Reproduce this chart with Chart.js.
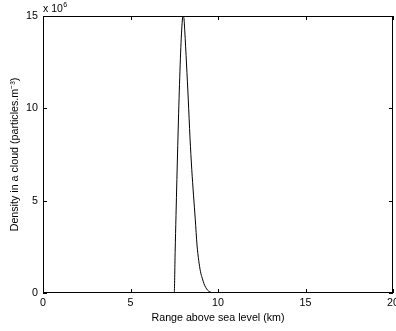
<!DOCTYPE html>
<html>
<head>
<meta charset="utf-8">
<script src="https://cdn.jsdelivr.net/npm/chart.js@4"></script>
<style>
body{margin:0;background:#fff}
#box{width:396px;height:331px}
</style>
</head>
<body>
<div id="box"><canvas id="chart" width="396" height="331"></canvas></div>
<script>
// range (km) and density (x 10^6 particles per m^3)
const rangeKm=[0,7.5,7.55,7.6,7.7,7.8,7.9,8.0,8.05,8.1,8.2,8.3,8.4,8.5,8.6,8.7,8.8,8.9,9.0,9.1,9.2,9.3,9.4,9.5,9.6,9.7,9.85,10,20];
const densityE6=[0,0,2.2,4.2,8.0,11.3,13.8,15.0,14.9,14.2,12.4,10.5,8.4,6.7,5.3,4.0,2.6,1.75,1.15,0.8,0.5,0.3,0.16,0.08,0.035,0.012,0,0,0];
const xTicks=[0,5,10,15,20];
const yTicks=[0,5,10,15];

const font={family:'"Liberation Sans", Arial, sans-serif',size:10.7};

// matlab style box with inward ticks
const boxPlugin={
  id:'box',
  afterDraw(chart){
    const c=chart.ctx, a=chart.chartArea;
    const xs=chart.scales.x, ys=chart.scales.y;
    c.save();
    c.strokeStyle='#000';
    c.lineWidth=1;
    c.strokeRect(a.left+0.5,a.top+0.5,a.right-a.left-1,a.bottom-a.top-1);
    c.beginPath();
    xTicks.forEach(v=>{
      const px=Math.round(xs.getPixelForValue(v))+0.5;
      c.moveTo(px,a.bottom);c.lineTo(px,a.bottom-4);
      c.moveTo(px,a.top);c.lineTo(px,a.top+4);
    });
    yTicks.forEach(v=>{
      const py=Math.round(ys.getPixelForValue(v))+0.5;
      c.moveTo(a.left,py);c.lineTo(a.left+4,py);
      c.moveTo(a.right,py);c.lineTo(a.right-4,py);
    });
    c.stroke();
    c.fillStyle='#000';
    c.textBaseline='alphabetic';
    c.font='10.5px "Liberation Sans", Arial, sans-serif';
    c.fillText('x 10',a.left,12);
    const w=c.measureText('x 10').width;
    c.font='7px "Liberation Sans", Arial, sans-serif';
    c.fillText('6',a.left+w+0.5,7);
    c.restore();
  }
};

new Chart('chart',{
  type:'line',
  data:{
    datasets:[{
      data:rangeKm.map((x,i)=>({x:x,y:densityE6[i]})),
      borderColor:'#000',
      borderWidth:1,
      pointRadius:0,
      cubicInterpolationMode:'monotone',
      fill:false
    }]
  },
  options:{
    responsive:false,
    animation:false,
    layout:{padding:{top:16,right:3,left:0,bottom:0}},
    plugins:{legend:{display:false},tooltip:{enabled:false}},
    scales:{
      x:{
        type:'linear',min:0,max:20,
        afterBuildTicks(s){s.ticks=xTicks.map(v=>({value:v}));},
        afterFit(s){s.height=38;s.paddingLeft=0;s.paddingRight=0;},
        grid:{display:false,drawTicks:false},
        border:{display:false},
        ticks:{color:'#000',font:font,padding:4,maxRotation:0,autoSkip:false},
        title:{display:true,text:'Range above sea level (km)',color:'#000',font:font,padding:{top:0,bottom:7}}
      },
      y:{
        type:'linear',min:0,max:15,
        afterBuildTicks(s){s.ticks=yTicks.map(v=>({value:v}));},
        afterFit(s){s.width=43;s.paddingTop=0;s.paddingBottom=0;},
        grid:{display:false,drawTicks:false},
        border:{display:false},
        ticks:{color:'#000',font:font,padding:5},
        title:{display:true,text:'Density in a cloud (particles.m\u207B\u00B3)',color:'#000',font:font,padding:{top:9,bottom:0}}
      }
    }
  },
  plugins:[boxPlugin]
});
</script>
</body>
</html>
